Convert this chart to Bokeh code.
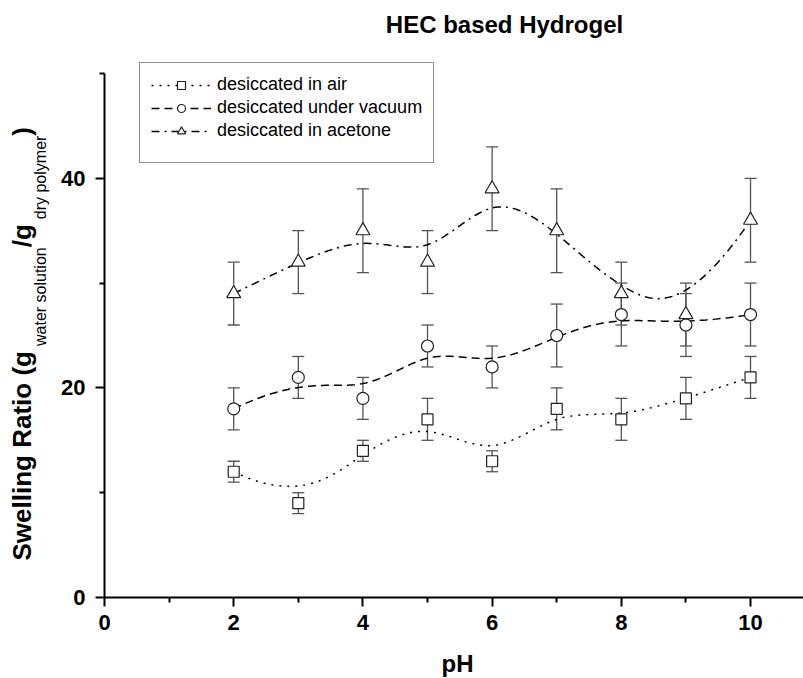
import numpy as np
from bokeh.plotting import figure
from bokeh.layouts import row, column
from bokeh.models import (Range1d, FixedTicker, Whisker, TeeHead, ColumnDataSource,
                          Legend, LegendItem, Label)
from bokeh.embed import file_html
from bokeh.resources import INLINE

# ---- data ---------------------------------------------------------------
ph = [2, 3, 4, 5, 6, 7, 8, 9, 10]

air = [12, 9, 14, 17, 13, 18, 17, 19, 21]
air_err = [1, 1, 1, 2, 1, 2, 2, 2, 2]

vacuum = [18, 21, 19, 24, 22, 25, 27, 26, 27]
vacuum_err = [2, 2, 2, 2, 2, 3, 3, 3, 3]

acetone = [29, 32, 35, 32, 39, 35, 29, 27, 36]
acetone_err = [3, 3, 4, 3, 4, 4, 3, 3, 4]

x_ticks = [0, 2, 4, 6, 8, 10]
x_minor = [1, 3, 5, 7, 9]
y_ticks = [0, 20, 40]
y_minor = [10, 30, 50]

series_names = ["desiccated in air", "desiccated under vacuum", "desiccated in acetone"]

# ---- layout constants ---------------------------------------------------
W, H = 803, 678
LABEL_W = 58                 # strip on the left holding the y-axis title
FOOT_H = 35                  # strip at the bottom holding the x-axis title
MAIN_H = H - FOOT_H
AXIS_X = 103                 # canvas x of the y axis
AXIS_Y = 597                 # canvas y of the x axis
AXIS_TOP = 73                # canvas y where the y axis ends (y = 50)
Y_MAX_AXIS = 50
FONT = "Liberation Sans"


def bspline_curve(xs, ys, degree=3, samples=300):
    """Clamped uniform B-spline using the points as control polygon."""
    xs = np.asarray(xs, float)
    ys = np.asarray(ys, float)
    n = len(xs)
    span = n - degree
    knots = np.concatenate([np.zeros(degree), np.arange(span + 1), np.full(degree, span)])
    t = np.linspace(0, span, samples)
    m = len(knots) - 1
    N = np.zeros((samples, m))
    for i in range(m):
        N[:, i] = (knots[i] <= t) & (t < knots[i + 1])
    N[t >= span, n - 1] = 1.0
    for d in range(1, degree + 1):
        Nn = np.zeros((samples, m - d))
        for i in range(m - d):
            a = knots[i + d] - knots[i]
            b = knots[i + d + 1] - knots[i + 1]
            left = (t - knots[i]) / a * N[:, i] if a > 0 else 0.0
            right = (knots[i + d + 1] - t) / b * N[:, i + 1] if b > 0 else 0.0
            Nn[:, i] = left + right
        N = Nn
    return N @ xs, N @ ys


def text_strip(width, height, x_range, y_range, **borders):
    f = figure(width=width, height=height, x_range=x_range, y_range=y_range,
               x_axis_type=None, y_axis_type=None, output_backend="svg",
               toolbar_location=None, title=None, min_border=0, **borders)
    f.outline_line_color = None
    f.background_fill_color = "white"
    f.border_fill_color = "white"
    return f


# frame reaches the top of the canvas so the title and legend sit inside it;
# the y axis itself is bounded to 0..50
y_top = Y_MAX_AXIS * AXIS_Y / (AXIS_Y - AXIS_TOP)

p = figure(width=W - LABEL_W, height=MAIN_H, x_range=Range1d(0, 10.82), y_range=Range1d(0, y_top),
           output_backend="svg", toolbar_location=None, title=None,
           min_border_left=AXIS_X - LABEL_W, min_border_right=0,
           min_border_top=0, min_border_bottom=MAIN_H - AXIS_Y)
p.outline_line_color = None
p.grid.visible = False
p.background_fill_color = "white"
p.border_fill_color = "white"

p.xaxis.ticker = FixedTicker(ticks=x_ticks, minor_ticks=x_minor)
p.yaxis.ticker = FixedTicker(ticks=y_ticks, minor_ticks=y_minor)
p.yaxis.bounds = (0, Y_MAX_AXIS)
for ax in (p.xaxis, p.yaxis):
    ax.axis_line_width = 2
    ax.axis_line_color = "black"
    ax.major_tick_line_width = 2
    ax.minor_tick_line_width = 2
    ax.major_tick_line_color = "black"
    ax.minor_tick_line_color = "black"
    ax.major_tick_in = 0
    ax.major_tick_out = 9
    ax.minor_tick_in = 0
    ax.minor_tick_out = 5
    ax.major_label_text_font = FONT
    ax.major_label_text_font_size = "22px"
    ax.major_label_text_font_style = "bold"
    ax.major_label_text_color = "black"
p.xaxis.major_label_standoff = 8
p.yaxis.major_label_standoff = 10

styles = [
    dict(y=air, err=air_err, marker="square", size=11, dash="2 6"),
    dict(y=vacuum, err=vacuum_err, marker="circle", size=12, dash="8 5"),
    dict(y=acetone, err=acetone_err, marker="triangle", size=14, dash="8 5 2 5"),
]

items = []
for name, st in zip(series_names, styles):
    yv = np.asarray(st["y"], float)
    ev = np.asarray(st["err"], float)
    src = ColumnDataSource(dict(x=ph, y=yv, upper=yv + ev, lower=yv - ev))

    cx, cy = bspline_curve(ph, yv)
    line_r = p.line(cx, cy, line_color="black", line_width=1.5, line_dash=st["dash"])

    err_color = "#555555"
    p.add_layout(Whisker(source=src, base="x", upper="upper", lower="lower",
                         line_color=err_color, line_width=1.3,
                         upper_head=TeeHead(size=12, line_color=err_color, line_width=1.3),
                         lower_head=TeeHead(size=12, line_color=err_color, line_width=1.3)))

    mark_r = p.scatter("x", "y", source=src, marker=st["marker"], size=st["size"],
                       fill_color="white", line_color="#222222", line_width=1.2)
    items.append(LegendItem(label=name, renderers=[line_r, mark_r]))


def sx(canvas_x):
    return canvas_x - AXIS_X


def sy(canvas_y):
    return AXIS_Y - canvas_y


legend = Legend(items=items, location=(sx(138), sy(163)),
                label_text_font=FONT, label_text_font_size="18px", label_text_color="black",
                glyph_width=60, glyph_height=20, label_height=20,
                label_standoff=6, spacing=2, padding=11, margin=0,
                border_line_color="#222222", border_line_width=1.5,
                background_fill_color="white", background_fill_alpha=1.0,
                title=" ", title_location="below", title_text_font_size="9px",
                title_standoff=0)
p.add_layout(legend, "center")

# chart title (anchored at the middle of its capitals)
p.add_layout(Label(x=sx(503), y=sy(24), x_units="screen", y_units="screen",
                   text="HEC based Hydrogel", text_font=FONT, text_font_size="24px",
                   text_font_style="bold", text_color="black",
                   text_align="center", text_baseline="middle"))

# ---- y axis title with subscripts, drawn in its own strip ---------------
# data y equals (H - canvas y) inside this strip
lab = text_strip(LABEL_W, MAIN_H, Range1d(0, LABEL_W), Range1d(H - AXIS_Y, H),
                 min_border_left=0, min_border_right=0, min_border_top=0,
                 min_border_bottom=MAIN_H - AXIS_Y)

BOLD_W = {'S': 667, 'w': 778, 'e': 556, 'l': 278, 'i': 278, 'n': 611, 'g': 611, ' ': 278,
          'R': 722, 'a': 556, 't': 333, 'o': 611, '(': 333, ')': 333, '/': 278}
REG_W = {'w': 722, 'a': 556, 't': 278, 'e': 556, 'r': 333, ' ': 278, 's': 500, 'o': 556,
         'l': 222, 'u': 556, 'i': 222, 'n': 556, 'd': 556, 'y': 500, 'p': 556, 'm': 833}


def text_len(s, size, bold):
    table = BOLD_W if bold else REG_W
    return sum(table.get(c, 556) for c in s) * size / 1000.0


main_size, sub_size = 26, 16
main_base, sub_base = 31, 46          # canvas x of the text baselines
pieces = [
    ("Swelling Ratio (g", True, 0),
    ("water solution", False, 5),
    ("/g", True, 0),
    ("dry polymer", False, 5),
    (")", True, 0),
]
ypos = 560.0
for txt, bold, gap in pieces:
    size = main_size if bold else sub_size
    base = main_base if bold else sub_base
    ypos -= gap
    lab.add_layout(Label(x=base - 0.36 * size, y=H - ypos,
                         angle=np.pi / 2,
                         text=txt, text_font=FONT, text_font_size=f"{size}px",
                         text_font_style="bold" if bold else "normal",
                         text_color="black",
                         text_align="left", text_baseline="middle"))
    ypos -= text_len(txt, size, bold)

# ---- x axis title in a strip along the bottom ----------------------------
# data x equals canvas x, data y is measured up from the canvas bottom
foot = text_strip(W, FOOT_H, Range1d(AXIS_X, W), Range1d(0, FOOT_H),
                  min_border_left=AXIS_X, min_border_right=0,
                  min_border_top=0, min_border_bottom=0)
foot.add_layout(Label(x=457, y=H - 663, text="pH", text_font=FONT, text_font_size="24px",
                      text_font_style="bold", text_color="black",
                      text_align="center", text_baseline="middle"))

layout = column(row(lab, p), foot)
open("out.html", "w").write(file_html(layout, INLINE))
